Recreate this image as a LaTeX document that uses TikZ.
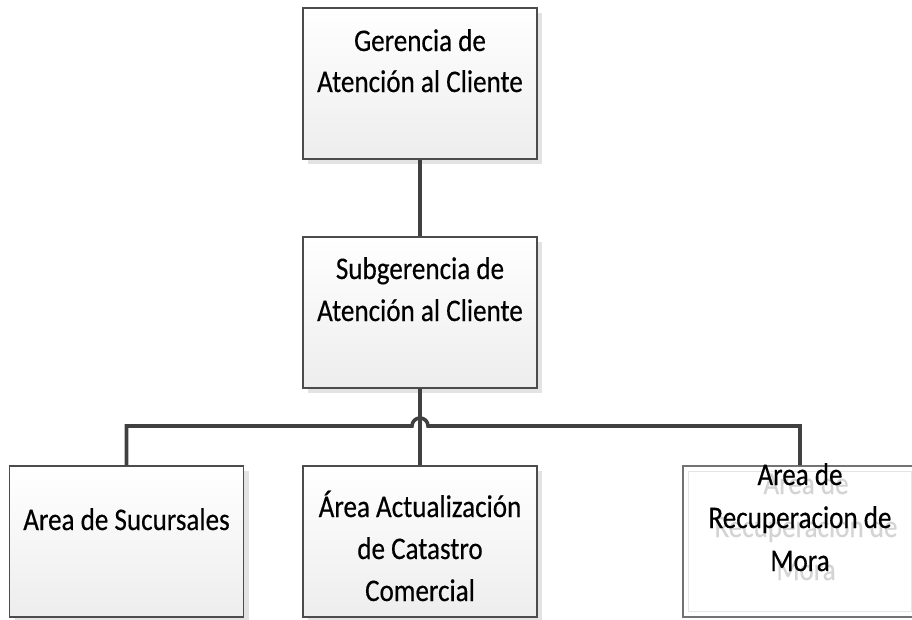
\documentclass[tikz,border=0pt]{standalone}
\usepackage{fontspec}
\setmainfont{Carlito}[FakeStretch=0.86, FakeBold=0.35]
\usetikzlibrary{shadows}

\newlength{\du}
\setlength{\du}{1pt}
\definecolor{dialinecolor}{rgb}{0.250000, 0.250000, 0.250000}
\definecolor{boxlinecolor}{rgb}{0.300000, 0.300000, 0.300000}

\tikzset{
  unitbox/.style={draw=boxlinecolor, line width=1.1\du, minimum width=234\du,
    minimum height=151\du, inner sep=0pt, top color=white, bottom color=black!7,
    drop shadow={shadow xshift=5\du, shadow yshift=-5\du, fill=black!11, opacity=1}},
  plainbox/.style={draw=black!55, line width=1.1\du, minimum width=234\du,
    minimum height=151\du, inner sep=0pt, fill=white},
  innerline/.style={draw=black!10, line width=1\du},
  conn/.style={draw=dialinecolor, line width=3.6\du},
  txt/.style={anchor=base, inner sep=0pt, font=\fontsize{31.5}{41}\selectfont},
  ghosttxt/.style={txt, text=black!17},
}

\begin{document}
\begin{tikzpicture}[yscale=-1]
\path[use as bounding box] (0\du,0\du) rectangle (912\du,619\du);
\clip (0\du,0\du) rectangle (912\du,619\du);
% boxes
\node[unitbox] (ger) at (420\du,83.5\du) {};
\node[unitbox] (sub) at (420\du,312.5\du) {};
\node[unitbox] (suc) at (126.5\du,541.5\du) {};
\node[unitbox] (act) at (420\du,541.5\du) {};
\node[plainbox] (mora) at (800\du,541.5\du) {};
\draw[innerline] ([shift={(6\du,6\du)}]mora.north west) rectangle ([shift={(-6\du,-6\du)}]mora.south east);
% texts
\node[txt] (ger-a) at (420\du,51\du) {Gerencia de};
\node[txt] (ger-b) at (420\du,92\du) {Atención al Cliente};
\node[txt] (sub-a) at (420\du,279\du) {Subgerencia de};
\node[txt] (sub-b) at (420\du,321\du) {Atención al Cliente};
\node[txt] (suc-a) at (126.5\du,530\du) {Area de Sucursales};
\node[txt] (act-a) at (420\du,517\du) {Área Actualización};
\node[txt] (act-b) at (420\du,559\du) {de Catastro};
\node[txt] (act-c) at (420\du,601\du) {Comercial};
\node[ghosttxt] (mora-ga) at (806\du,494\du) {Area de};
\node[ghosttxt] (mora-gb) at (806\du,537\du) {Recuperacion de};
\node[ghosttxt] (mora-gc) at (806\du,580\du) {Mora};
\node[txt] (mora-a) at (800\du,485\du) {Area de};
\node[txt] (mora-b) at (800\du,528\du) {Recuperacion de};
\node[txt] (mora-c) at (800\du,571\du) {Mora};
% connectors
\coordinate (bus) at (420\du,426\du);
\draw[conn] (ger.south) -- (sub.north);
\draw[conn] (sub.south) -- (act.north);
\draw[conn] (suc.north) -- (suc.north |- bus) -- ([xshift=-8\du]bus)
  arc[start angle=180, end angle=360, radius=8\du] -- (bus -| mora.north) -- (mora.north);
\end{tikzpicture}
\end{document}
